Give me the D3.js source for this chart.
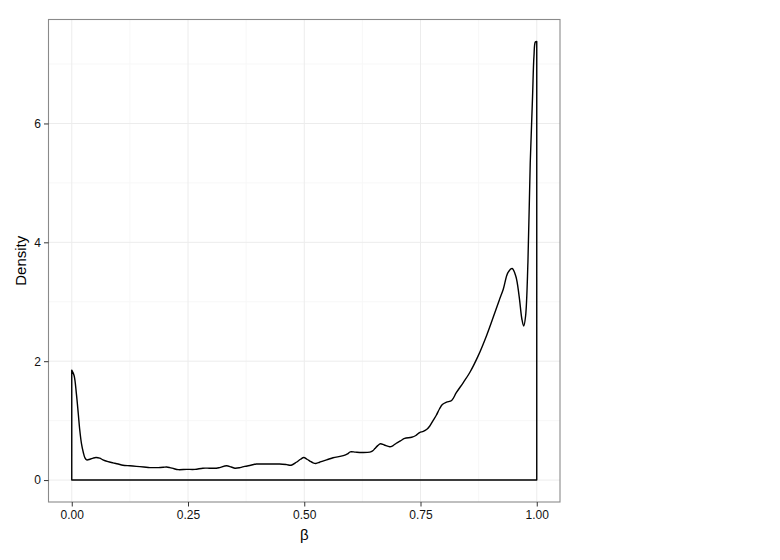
<!DOCTYPE html>
<html>
<head>
<meta charset="utf-8">
<script src="https://cdn.jsdelivr.net/npm/d3@7"></script>
<style>
  html, body { margin: 0; padding: 0; background: #fff; }
  svg { display: block; }
  text { font-family: "Liberation Sans", Arial, sans-serif; }
</style>
</head>
<body>
<svg id="chart" width="780" height="560"></svg>
<script>
// ---- data ----
const betaValues = [0.000, 0.005, 0.010, 0.014, 0.017, 0.021, 0.025, 0.028, 0.032, 0.039, 0.046, 0.052, 0.060,
  0.067, 0.078, 0.089, 0.100, 0.110, 0.125, 0.139, 0.155, 0.168, 0.186, 0.197, 0.204, 0.211, 0.220, 0.229, 0.247,
  0.265, 0.282, 0.296, 0.311, 0.318, 0.333, 0.343, 0.351, 0.362, 0.372, 0.385, 0.397, 0.412, 0.426, 0.447, 0.462,
  0.472, 0.483, 0.492, 0.499, 0.506, 0.512, 0.519, 0.525, 0.533, 0.540, 0.552, 0.562, 0.584, 0.593, 0.599, 0.610,
  0.619, 0.641, 0.647, 0.652, 0.658, 0.664, 0.672, 0.684, 0.691, 0.698, 0.707, 0.716, 0.731, 0.740, 0.748, 0.756,
  0.763, 0.770, 0.777, 0.784, 0.791, 0.797, 0.806, 0.817, 0.827, 0.842, 0.856, 0.874, 0.892, 0.910, 0.920, 0.928,
  0.938, 0.947, 0.955, 0.962, 0.968, 0.972, 0.976, 0.981, 0.986, 0.991, 0.994, 0.997, 1.000];
const densityValues = [1.85, 1.76, 1.45, 1.12, 0.86, 0.61, 0.46, 0.38, 0.34, 0.35, 0.37, 0.38, 0.37,
  0.34, 0.31, 0.29, 0.27, 0.25, 0.24, 0.23, 0.22, 0.21, 0.21, 0.215, 0.22, 0.21, 0.19, 0.175, 0.18,
  0.18, 0.20, 0.20, 0.20, 0.21, 0.24, 0.22, 0.20, 0.21, 0.23, 0.25, 0.27, 0.27, 0.27, 0.27, 0.26,
  0.25, 0.30, 0.35, 0.38, 0.35, 0.32, 0.29, 0.28, 0.30, 0.32, 0.35, 0.375, 0.41, 0.44, 0.475, 0.47,
  0.465, 0.47, 0.49, 0.53, 0.58, 0.61, 0.59, 0.56, 0.58, 0.62, 0.66, 0.70, 0.72, 0.75, 0.80, 0.82,
  0.85, 0.91, 1.00, 1.09, 1.20, 1.27, 1.31, 1.34, 1.47, 1.64, 1.81, 2.09, 2.43, 2.82, 3.04, 3.21,
  3.49, 3.56, 3.43, 3.10, 2.71, 2.59, 2.76, 3.66, 5.34, 6.46, 7.13, 7.37, 7.38];
const xTicks = [0, 0.25, 0.5, 0.75, 1];
const xTickLabels = ["0.00", "0.25", "0.50", "0.75", "1.00"];
const yTicks = [0, 2, 4, 6];
const yTickLabels = ["0", "2", "4", "6"];
const xMinor = [0.125, 0.375, 0.625, 0.875];
const yMinor = [1, 3, 5, 7];

// ---- layout ----
const panel = { left: 48.5, right: 560, top: 19.5, bottom: 502 };
const svg = d3.select("#chart");

const x = d3.scaleLinear().domain([-0.05, 1.05]).range([panel.left, panel.right]);
const yMax = d3.max(densityValues);
const ySpan = yMax - 0;
const y = d3.scaleLinear().domain([0 - 0.05 * ySpan, yMax + 0.05 * ySpan]).range([panel.bottom, panel.top]);

svg.append("rect")
  .attr("x", panel.left).attr("y", panel.top)
  .attr("width", panel.right - panel.left).attr("height", panel.bottom - panel.top)
  .attr("fill", "#fff");

const grid = svg.append("g");
grid.selectAll(".xminor").data(xMinor).join("line")
  .attr("x1", d => x(d)).attr("x2", d => x(d))
  .attr("y1", panel.top).attr("y2", panel.bottom)
  .attr("stroke", "#f7f7f7").attr("stroke-width", 1);
grid.selectAll(".yminor").data(yMinor).join("line")
  .attr("y1", d => y(d)).attr("y2", d => y(d))
  .attr("x1", panel.left).attr("x2", panel.right)
  .attr("stroke", "#f7f7f7").attr("stroke-width", 1);
grid.selectAll(".xmajor").data(xTicks).join("line")
  .attr("x1", d => x(d)).attr("x2", d => x(d))
  .attr("y1", panel.top).attr("y2", panel.bottom)
  .attr("stroke", "#ececec").attr("stroke-width", 1);
grid.selectAll(".ymajor").data(yTicks).join("line")
  .attr("y1", d => y(d)).attr("y2", d => y(d))
  .attr("x1", panel.left).attr("x2", panel.right)
  .attr("stroke", "#ececec").attr("stroke-width", 1);

// density outline (area with baseline at 0)
const pts = betaValues.map((b, i) => ({ b, d: densityValues[i] }));
const area = d3.area()
  .x(p => x(p.b))
  .y0(y(0))
  .y1(p => y(p.d))
  .curve(d3.curveCatmullRom.alpha(0.5));
svg.append("path")
  .datum(pts)
  .attr("d", area)
  .attr("fill", "none")
  .attr("stroke", "#000")
  .attr("stroke-width", 1.4)
  .attr("stroke-linejoin", "round");

svg.append("rect")
  .attr("x", panel.left).attr("y", panel.top)
  .attr("width", panel.right - panel.left).attr("height", panel.bottom - panel.top)
  .attr("fill", "none").attr("stroke", "#8a8a8a").attr("stroke-width", 1.1);

const xAxis = d3.axisBottom(x).tickValues(xTicks)
  .tickFormat((d, i) => xTickLabels[i]).tickSize(4.5).tickPadding(4);
const gx = svg.append("g").attr("transform", `translate(0,${panel.bottom})`).call(xAxis);
const yAxis = d3.axisLeft(y).tickValues(yTicks)
  .tickFormat((d, i) => yTickLabels[i]).tickSize(4.5).tickPadding(3);
const gy = svg.append("g").attr("transform", `translate(${panel.left},0)`).call(yAxis);
[gx, gy].forEach(g => {
  g.select(".domain").remove();
  g.selectAll(".tick line").attr("stroke", "#333").attr("stroke-width", 1);
  g.selectAll(".tick text").attr("fill", "#111").attr("font-size", 12)
    .attr("font-family", "Liberation Sans, Arial, sans-serif");
});

svg.append("text")
  .attr("x", (panel.left + panel.right) / 2).attr("y", 540)
  .attr("text-anchor", "middle").attr("font-size", 15).attr("fill", "#000")
  .text("β");
svg.append("text")
  .attr("transform", `translate(26,${(panel.top + panel.bottom) / 2}) rotate(-90)`)
  .attr("text-anchor", "middle").attr("font-size", 15).attr("fill", "#000")
  .text("Density");
</script>
</body>
</html>
